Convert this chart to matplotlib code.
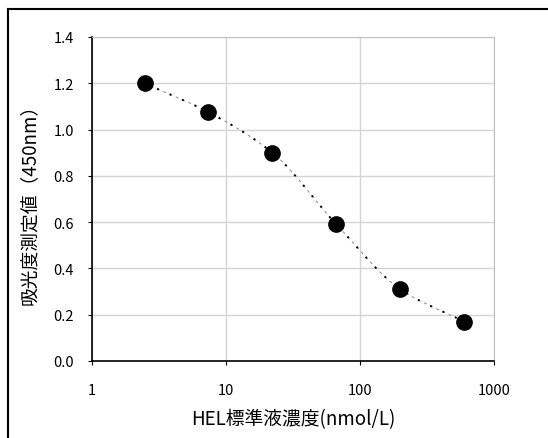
import numpy as np
import matplotlib
matplotlib.use("Agg")
import matplotlib.pyplot as plt
from matplotlib.patches import Rectangle

plt.rcParams['font.family'] = ['Noto Sans CJK JP', 'DejaVu Sans']

conc = [2.47, 7.4, 22.2, 66.7, 200, 600]
absorb = [1.20, 1.075, 0.90, 0.59, 0.31, 0.17]
xticks = [1, 10, 100, 1000]
xticklabels = ["1", "10", "100", "1000"]
yticks = [0.0, 0.2, 0.4, 0.6, 0.8, 1.0, 1.2, 1.4]
xlabel = "HEL標準液濃度(nmol/L)"
ylabel = "吸光度測定値（450nm）"

def pchip(x, y, xs):
    x = np.asarray(x, float); y = np.asarray(y, float)
    h = np.diff(x); d = np.diff(y) / h
    m = np.zeros_like(y)
    for k in range(1, len(y) - 1):
        if d[k-1] * d[k] > 0:
            w1 = 2*h[k] + h[k-1]; w2 = h[k] + 2*h[k-1]
            m[k] = (w1 + w2) / (w1/d[k-1] + w2/d[k])
    m[0] = d[0]; m[-1] = d[-1]
    out = np.empty_like(xs)
    for i, xv in enumerate(xs):
        k = min(max(np.searchsorted(x, xv) - 1, 0), len(x) - 2)
        t = (xv - x[k]) / h[k]
        h00 = 2*t**3 - 3*t**2 + 1; h10 = t**3 - 2*t**2 + t
        h01 = -2*t**3 + 3*t**2; h11 = t**3 - t**2
        out[i] = h00*y[k] + h10*h[k]*m[k] + h01*y[k+1] + h11*h[k]*m[k+1]
    return out

fig = plt.figure(figsize=(5.48, 4.39), dpi=100)
ax = fig.add_axes([92/548, 1-362/439, (494-92)/548, (362-38)/439])

lx = np.log10(conc)
xs = np.linspace(lx[0], lx[-1], 300)
ys = pchip(lx, absorb, xs)
ax.plot(10**xs, ys, color='#888888', lw=0.7, ls=(0, (3, 4)), zorder=2)
ax.plot(10**xs, ys, color='black', lw=1.4, ls=(0, (1, 6)), zorder=2)
ax.plot(conc, absorb, 'o', color='black', markersize=11, zorder=3)

ax.set_xscale('log')
ax.set_xlim(1, 1000)
ax.set_ylim(0, 1.4)
ax.set_xticks(xticks)
ax.set_xticklabels(xticklabels)
ax.minorticks_off()
ax.set_yticks(yticks)
ax.set_yticklabels([f"{v:.1f}" for v in yticks])
ax.grid(True, color='#d4d4d4', lw=1.0)
ax.set_axisbelow(True)
for s in ['top', 'right']:
    ax.spines[s].set_color('#c0c0c0')
for s in ['left', 'bottom']:
    ax.spines[s].set_color('black')
    ax.spines[s].set_linewidth(1.2)
ax.tick_params(axis='both', direction='out', length=3, labelsize=10.5, pad=10, colors='black')
ax.tick_params(axis='x', pad=13)

ax.set_xlabel(xlabel, fontsize=13.5, labelpad=8)
ax.set_ylabel(ylabel, fontsize=13.5, labelpad=10)

fig.patches.append(Rectangle((8/548, -0.1), 1.2, 1-10/439+0.1, transform=fig.transFigure,
                             fill=False, edgecolor='black', lw=1.5))

fig.savefig("out.png", dpi=100)
